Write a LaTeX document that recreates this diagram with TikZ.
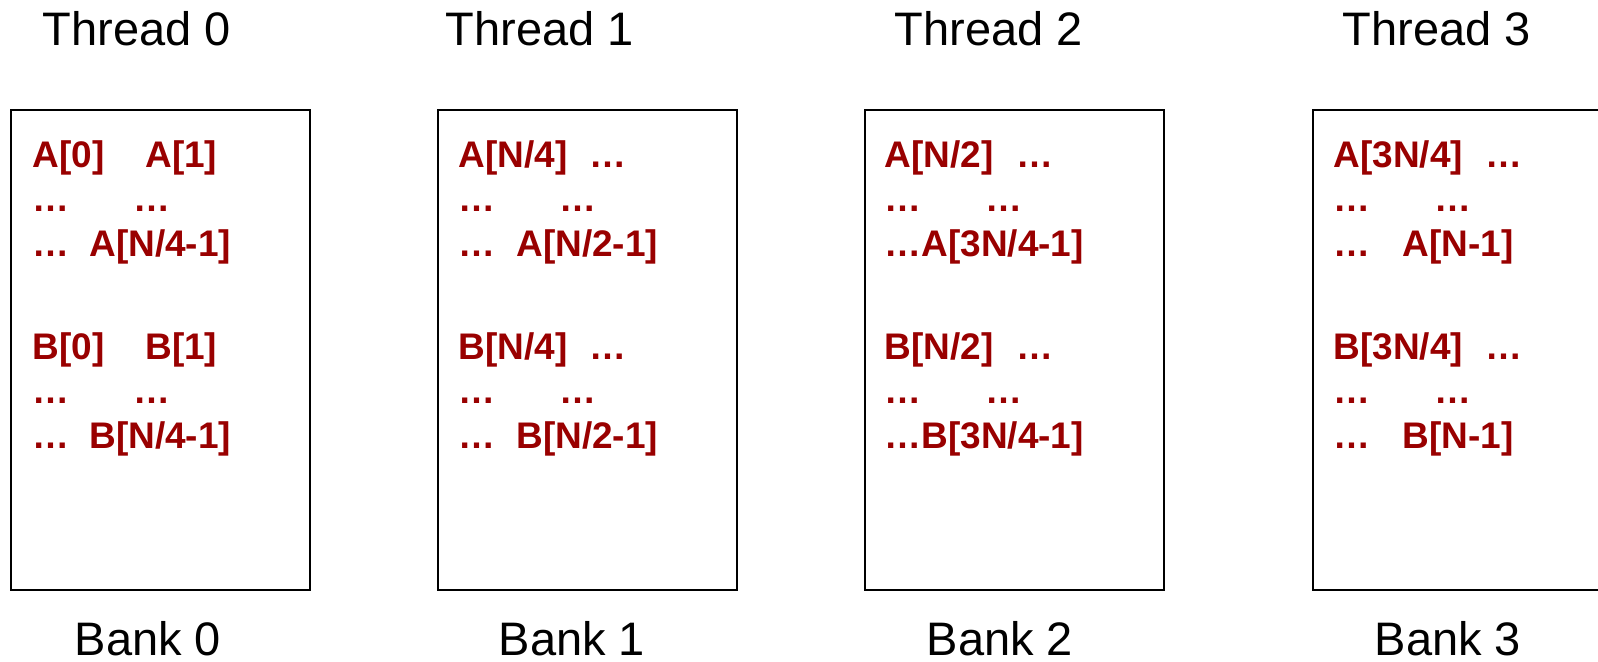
\documentclass[tikz,border=0pt]{standalone}
\usepackage{fontspec}
\setmainfont{Liberation Sans}
\definecolor{cellred}{RGB}{153,0,0}
\tikzset{
  bankbox/.style={draw, line width=1pt, inner sep=0pt, minimum width=149.5pt, minimum height=240pt},
  caption/.style={anchor=base, inner sep=0pt, font=\fontsize{23.5}{27}\selectfont},
  bankcells/.style={anchor=base west, inner sep=0pt, align=left, text=cellred, font=\fontsize{18.5}{22.25}\selectfont\bfseries},
}
\newcommand{\colgap}[2]{\makebox[#1][l]{#2}}
\begin{document}
\begin{tikzpicture}[x=0.5pt, y=-0.5pt]
    \useasboundingbox (0,0) rectangle (1598,662);
    \clip (0,0) rectangle (1598,662);

    % threads on top
    \node[caption] (thread0) at (137,46) {Thread 0};
    \node[caption] (thread1) at (540,46) {Thread 1};
    \node[caption] (thread2) at (989,46) {Thread 2};
    \node[caption] (thread3) at (1437,46) {Thread 3};

    % memory banks
    \node[bankbox] (box0) at (160.5,350) {};
    \node[bankbox] (box1) at (587,350) {};
    \node[bankbox] (box2) at (1014,350) {};
    \node[bankbox] (box3) at (1462.5,350) {};

    \node[caption] (bank0) at (148,655) {Bank 0};
    \node[caption] (bank1) at (572,655) {Bank 1};
    \node[caption] (bank2) at (1000,655) {Bank 2};
    \node[caption] (bank3) at (1448,655) {Bank 3};

    % elements held by each bank (base = last line)
    \node[bankcells] (cells0) at (32,448) {\colgap{56.5pt}{A[0]}A[1]\\ \colgap{50.5pt}{…}…\\ \colgap{28.5pt}{…}A[N/4-1]\\[29.25pt]
        \colgap{56.5pt}{B[0]}B[1]\\ \colgap{50.5pt}{…}…\\ \colgap{28.5pt}{…}B[N/4-1]};
    \node[bankcells] (cells1) at (458,448) {\colgap{65.5pt}{A[N/4]}…\\ \colgap{50.5pt}{…}…\\ \colgap{29pt}{…}A[N/2-1]\\[29.25pt]
        \colgap{65.5pt}{B[N/4]}…\\ \colgap{50.5pt}{…}…\\ \colgap{29pt}{…}B[N/2-1]};
    \node[bankcells] (cells2) at (884,448) {\colgap{66pt}{A[N/2]}…\\ \colgap{50.5pt}{…}…\\ …A[3N/4-1]\\[29.25pt]
        \colgap{66pt}{B[N/2]}…\\ \colgap{50.5pt}{…}…\\ …B[3N/4-1]};
    \node[bankcells] (cells3) at (1333,448) {\colgap{76pt}{A[3N/4]}…\\ \colgap{50.5pt}{…}…\\ \colgap{34.5pt}{…}A[N-1]\\[29.25pt]
        \colgap{76pt}{B[3N/4]}…\\ \colgap{50.5pt}{…}…\\ \colgap{34.5pt}{…}B[N-1]};
\end{tikzpicture}
\end{document}
